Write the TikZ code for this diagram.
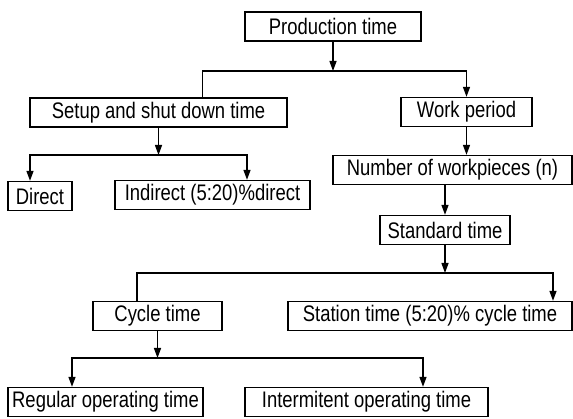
\documentclass[tikz,border=0pt]{standalone}
\usepackage{fontspec}
\setmainfont{Liberation Sans}[FakeStretch=0.82]
\usepackage{tikz}
\usetikzlibrary{arrows.meta}

\tikzset{
  tbox/.style={draw, line width=1.3pt, minimum height=29pt, inner sep=1pt,
    font=\fontsize{22.5}{24}\selectfont},
  link/.style={line width=1.3pt},
  arr/.style={link, -{Triangle[length=10pt,width=7pt]}}
}

\begin{document}
\begin{tikzpicture}[x=1pt, y=-1pt]

\useasboundingbox (0,0) rectangle (573,419);

% boxes
\node[tbox, minimum width=176pt] (prod) at (333,26.5) {Production time};
\node[tbox, minimum width=257pt] (setup) at (158.5,112.5) {Setup and shut down time};
\node[tbox, minimum width=131pt] (work) at (466.5,112) {Work period};
\node[tbox, minimum width=64pt] (direct) at (40,196) {Direct};
\node[tbox, minimum width=195pt] (indirect) at (212.5,195) {Indirect (5:20)\%direct};
\node[tbox, minimum width=239pt] (number) at (452.5,170) {Number of workpieces (n)};
\node[tbox, minimum width=130pt] (standard) at (445,230) {Standard time};
\node[tbox, minimum width=129pt] (cycle) at (157.5,316) {Cycle time};
\node[tbox, minimum width=284pt] (station) at (430,316) {Station time (5:20)\% cycle time};
\node[tbox, minimum width=195pt] (regular) at (105.5,402) {Regular operating time};
\node[tbox, minimum width=243pt] (interm) at (366.5,402) {Intermitent operating time};

% junctions
\coordinate (j1) at (333,71);
\coordinate (j2) at (158.5,155);
\coordinate (j3) at (445,273);
\coordinate (j4) at (157.5,358);

% production time
\draw[arr] (prod.south) -- (j1);
\draw[link] (j1) -| ([xshift=44pt]setup.north);
\draw[arr] (j1) -| (work.north);

% setup branch
\draw[arr] (setup.south) -- (j2);
\draw[arr] (j2) -| ([xshift=-10pt]direct.north);
\draw[arr] (j2) -| ([xshift=34.5pt]indirect.north);

% work branch
\draw[arr] (work.south) -- (work.south |- number.north);
\draw[arr] (number.south -| standard.north) -- (standard.north);
\draw[arr] (standard.south) -- (j3);
\draw[link] (j3) -| ([xshift=-20.5pt]cycle.north);
\draw[arr] (j3) -| ([xshift=123pt]station.north);

% cycle branch
\draw[arr] (cycle.south) -- (j4);
\draw[arr] (j4) -| ([xshift=-33.5pt]regular.north);
\draw[arr] (j4) -| ([xshift=56.5pt]interm.north);

\end{tikzpicture}
\end{document}
